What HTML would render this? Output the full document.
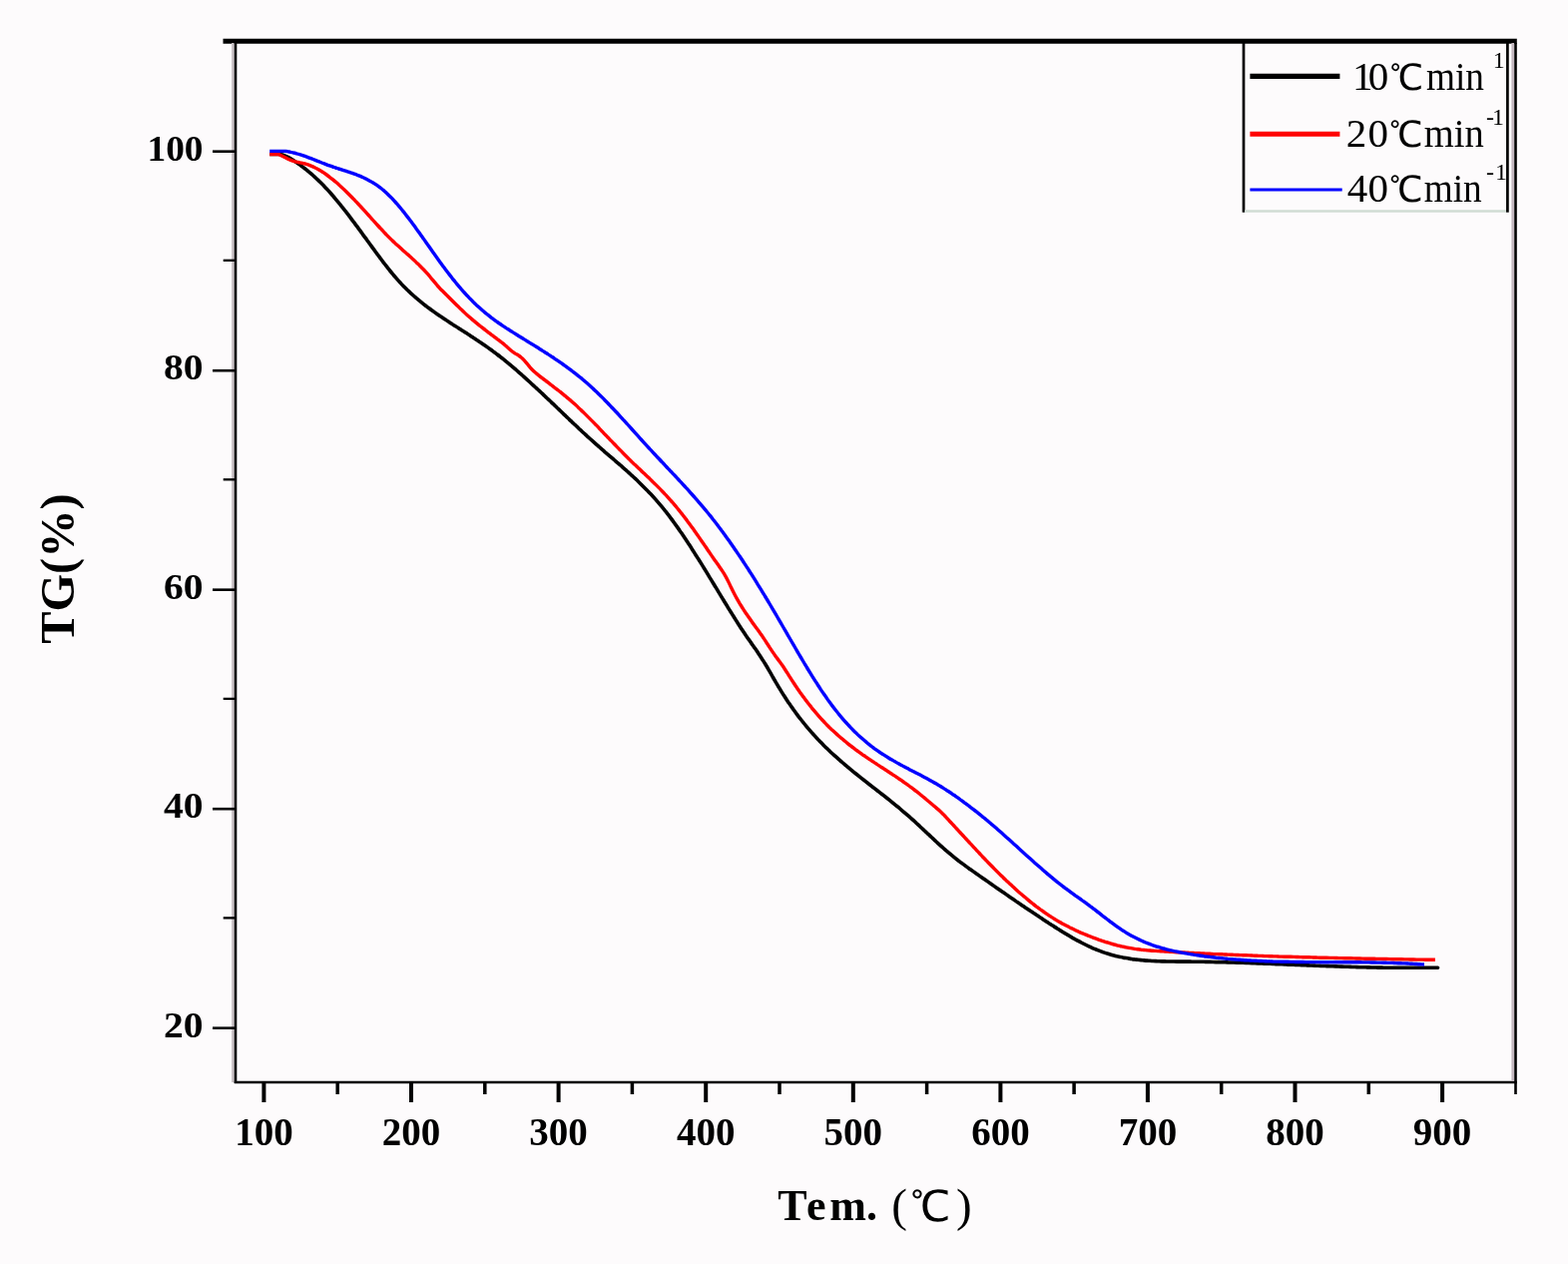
<!DOCTYPE html>
<html><head><meta charset="utf-8"><title>TG curves</title>
<style>
html,body{margin:0;padding:0;background:#fdfbfc;}
body{width:1571px;height:1266px;overflow:hidden;}
svg{display:block;}
.tl{font-family:"Liberation Serif","Noto Serif CJK SC",serif;font-weight:bold;font-size:36px;fill:#000;}
.xl{font-family:"Liberation Serif","Noto Serif CJK SC",serif;font-weight:bold;font-size:39px;fill:#000;}
.at{font-family:"Liberation Serif","Noto Serif CJK SC",serif;font-weight:bold;fill:#000;}
.lg{font-family:"Liberation Serif","Noto Serif CJK SC",serif;font-size:41px;fill:#000;}
.sup{font-family:"Liberation Serif",serif;font-size:24px;fill:#000;}
.deg{font-family:"WenQuanYi Zen Hei","Noto Serif CJK SC",sans-serif;font-size:36px;fill:#000;}
</style></head>
<body>
<svg width="1571" height="1266" viewBox="0 0 1571 1266">
<rect width="1571" height="1266" fill="#fdfbfc"/>
<!-- frame -->
<line x1="223.5" y1="41.2" x2="1519.8" y2="41.2" stroke="#000" stroke-width="5"/>
<line x1="233.4" y1="43" x2="233.4" y2="1084" stroke="#c8c0c4" stroke-width="2.6"/>
<line x1="236" y1="43" x2="236" y2="1085" stroke="#000" stroke-width="2.6"/>
<line x1="234.8" y1="1084" x2="1519.8" y2="1084" stroke="#000" stroke-width="2.4"/>
<line x1="1515.7" y1="43" x2="1515.7" y2="1083" stroke="#c4b8c0" stroke-width="2.6"/>
<line x1="1518.5" y1="43" x2="1518.5" y2="1096" stroke="#000" stroke-width="2.6"/>
<line x1="213" y1="151.7" x2="236" y2="151.7" stroke="#000" stroke-width="2.6"/>
<line x1="213" y1="371.2" x2="236" y2="371.2" stroke="#000" stroke-width="2.6"/>
<line x1="213" y1="590.7" x2="236" y2="590.7" stroke="#000" stroke-width="2.6"/>
<line x1="213" y1="810.2" x2="236" y2="810.2" stroke="#000" stroke-width="2.6"/>
<line x1="213" y1="1029.7" x2="236" y2="1029.7" stroke="#000" stroke-width="2.6"/>
<line x1="223.7" y1="260.8" x2="236" y2="260.8" stroke="#000" stroke-width="2.3"/>
<line x1="223.7" y1="480.3" x2="236" y2="480.3" stroke="#000" stroke-width="2.3"/>
<line x1="223.7" y1="699.9" x2="236" y2="699.9" stroke="#000" stroke-width="2.3"/>
<line x1="223.7" y1="919.4" x2="236" y2="919.4" stroke="#000" stroke-width="2.3"/>
<line x1="264.4" y1="1083" x2="264.4" y2="1104" stroke="#000" stroke-width="4"/>
<line x1="412.0" y1="1083" x2="412.0" y2="1104" stroke="#000" stroke-width="4"/>
<line x1="559.6" y1="1083" x2="559.6" y2="1104" stroke="#000" stroke-width="4"/>
<line x1="707.2" y1="1083" x2="707.2" y2="1104" stroke="#000" stroke-width="4"/>
<line x1="854.8" y1="1083" x2="854.8" y2="1104" stroke="#000" stroke-width="4"/>
<line x1="1002.4" y1="1083" x2="1002.4" y2="1104" stroke="#000" stroke-width="4"/>
<line x1="1149.9" y1="1083" x2="1149.9" y2="1104" stroke="#000" stroke-width="4"/>
<line x1="1297.5" y1="1083" x2="1297.5" y2="1104" stroke="#000" stroke-width="4"/>
<line x1="1445.1" y1="1083" x2="1445.1" y2="1104" stroke="#000" stroke-width="4"/>
<line x1="338.2" y1="1083" x2="338.2" y2="1096" stroke="#000" stroke-width="3.5"/>
<line x1="485.8" y1="1083" x2="485.8" y2="1096" stroke="#000" stroke-width="3.5"/>
<line x1="633.4" y1="1083" x2="633.4" y2="1096" stroke="#000" stroke-width="3.5"/>
<line x1="781.0" y1="1083" x2="781.0" y2="1096" stroke="#000" stroke-width="3.5"/>
<line x1="928.6" y1="1083" x2="928.6" y2="1096" stroke="#000" stroke-width="3.5"/>
<line x1="1076.1" y1="1083" x2="1076.1" y2="1096" stroke="#000" stroke-width="3.5"/>
<line x1="1223.7" y1="1083" x2="1223.7" y2="1096" stroke="#000" stroke-width="3.5"/>
<line x1="1371.3" y1="1083" x2="1371.3" y2="1096" stroke="#000" stroke-width="3.5"/>

<text x="203.5" y="160.7" text-anchor="end" class="tl" textLength="56" lengthAdjust="spacingAndGlyphs">100</text>
<text x="203.5" y="380.2" text-anchor="end" class="tl" textLength="39.5" lengthAdjust="spacingAndGlyphs">80</text>
<text x="203.5" y="599.7" text-anchor="end" class="tl" textLength="39.5" lengthAdjust="spacingAndGlyphs">60</text>
<text x="203.5" y="819.2" text-anchor="end" class="tl" textLength="39.5" lengthAdjust="spacingAndGlyphs">40</text>
<text x="203.5" y="1038.7" text-anchor="end" class="tl" textLength="39.5" lengthAdjust="spacingAndGlyphs">20</text>

<text x="264.4" y="1147.3" text-anchor="middle" class="xl">100</text>
<text x="412.0" y="1147.3" text-anchor="middle" class="xl">200</text>
<text x="559.6" y="1147.3" text-anchor="middle" class="xl">300</text>
<text x="707.2" y="1147.3" text-anchor="middle" class="xl">400</text>
<text x="854.8" y="1147.3" text-anchor="middle" class="xl">500</text>
<text x="1002.4" y="1147.3" text-anchor="middle" class="xl">600</text>
<text x="1149.9" y="1147.3" text-anchor="middle" class="xl">700</text>
<text x="1297.5" y="1147.3" text-anchor="middle" class="xl">800</text>
<text x="1445.1" y="1147.3" text-anchor="middle" class="xl">900</text>

<text class="at" font-size="49" transform="translate(74.3,644.8) rotate(-90)" textLength="150.5" lengthAdjust="spacingAndGlyphs">TG(%)</text>
<text x="779.3 808.1 831.3 868.1" y="1221.5" class="at" font-size="44">Tem.</text>
<text x="893.2" y="1223" class="lg" style="font-size:47px">(</text><text x="912.3" y="1223" class="deg" style="font-size:43px">℃</text><text x="958.1" y="1223" class="lg" style="font-size:47px">)</text>
<!-- legend -->
<line x1="1246" y1="43" x2="1246" y2="212.7" stroke="#000" stroke-width="2.7"/>
<line x1="1510.4" y1="43" x2="1510.4" y2="212.7" stroke="#000" stroke-width="2.7"/>
<line x1="1247" y1="211.5" x2="1509" y2="211.5" stroke="#d0dcd4" stroke-width="2.4"/>
<line x1="1252.4" y1="76.4" x2="1342.4" y2="76.4" stroke="#000" stroke-width="5.4"/>
<line x1="1252.4" y1="134.2" x2="1342.4" y2="134.2" stroke="#f00" stroke-width="5"/>
<line x1="1252.4" y1="190.1" x2="1344.7" y2="190.1" stroke="#00f" stroke-width="3"/>
<text y="90.1" class="lg" x="1354.9 1370.7">10</text><text y="90.1" class="deg" x="1392.4">℃</text><text y="90.1" class="lg" x="1429" textLength="58" lengthAdjust="spacingAndGlyphs">min</text>
<text x="1495.7" y="68.3" class="sup">1</text>
<text y="147.2" class="lg" x="1348.8 1370.5">20</text><text y="147.2" class="deg" x="1392.1">℃</text><text y="147.2" class="lg" x="1426.7" textLength="60" lengthAdjust="spacingAndGlyphs">min</text>
<text x="1488.9 1495" y="125.4" class="sup">-1</text>
<text y="201.7" class="lg" x="1349.8 1370.5">40</text><text y="201.7" class="deg" x="1392.1">℃</text><text y="201.7" class="lg" x="1426.7" textLength="58" lengthAdjust="spacingAndGlyphs">min</text>
<text x="1489 1498" y="180" class="sup">-1</text>
<!-- curves -->
<path d="M270.2,154.5 C270.7,154.5 272.2,154.5 273.2,154.5 C274.2,154.5 275.2,154.5 276.2,154.5 C277.2,154.5 278.2,154.4 279.2,154.5 C280.2,154.5 281.2,154.4 282.2,154.7 C283.2,154.9 284.2,155.3 285.2,155.8 C286.2,156.2 287.2,156.6 288.2,157.2 C289.2,157.7 290.2,158.2 291.2,158.8 C292.2,159.4 293.2,160.1 294.2,160.7 C295.2,161.4 296.2,162.1 297.2,162.7 C298.2,163.4 299.2,164.2 300.2,164.9 C301.2,165.6 302.2,166.4 303.2,167.1 C304.2,167.9 305.2,168.6 306.2,169.4 C307.2,170.2 308.2,171.0 309.2,171.9 C310.2,172.7 311.2,173.5 312.2,174.4 C313.2,175.3 314.2,176.2 315.2,177.1 C316.2,178.0 317.2,178.9 318.2,179.9 C319.2,180.8 320.2,181.8 321.2,182.8 C322.2,183.8 323.2,184.8 324.2,185.8 C325.2,186.9 326.2,187.9 327.2,189.0 C328.2,190.1 329.2,191.2 330.2,192.3 C331.2,193.4 332.2,194.6 333.2,195.7 C334.2,196.9 335.2,198.1 336.2,199.3 C337.2,200.5 338.2,201.7 339.2,202.9 C340.2,204.1 341.2,205.3 342.2,206.6 C343.2,207.8 344.2,209.1 345.2,210.4 C346.2,211.6 347.2,212.9 348.2,214.2 C349.2,215.5 350.2,216.8 351.2,218.1 C352.2,219.5 353.2,220.8 354.2,222.1 C355.2,223.4 356.2,224.8 357.2,226.1 C358.2,227.5 359.2,228.8 360.2,230.2 C361.2,231.5 362.2,232.9 363.2,234.3 C364.2,235.6 365.2,237.0 366.2,238.4 C367.2,239.8 368.2,241.1 369.2,242.5 C370.2,243.9 371.2,245.3 372.2,246.6 C373.2,248.0 374.2,249.4 375.2,250.7 C376.2,252.1 377.2,253.5 378.2,254.8 C379.2,256.2 380.2,257.5 381.2,258.8 C382.2,260.2 383.2,261.5 384.2,262.8 C385.2,264.1 386.2,265.4 387.2,266.7 C388.2,268.0 389.2,269.2 390.2,270.5 C391.2,271.7 392.2,272.9 393.2,274.2 C394.2,275.4 395.2,276.5 396.2,277.7 C397.2,278.9 398.2,280.0 399.2,281.1 C400.2,282.2 401.2,283.3 402.2,284.4 C403.2,285.4 404.2,286.5 405.2,287.5 C406.2,288.5 407.2,289.5 408.2,290.5 C409.2,291.4 410.2,292.4 411.2,293.3 C412.2,294.2 413.2,295.1 414.2,296.0 C415.2,296.9 416.2,297.8 417.2,298.7 C418.2,299.5 419.2,300.4 420.2,301.2 C421.2,302.0 422.2,302.8 423.2,303.6 C424.2,304.4 425.2,305.2 426.2,306.0 C427.2,306.8 428.2,307.5 429.2,308.3 C430.2,309.0 431.2,309.7 432.2,310.5 C433.2,311.2 434.2,311.9 435.2,312.6 C436.2,313.3 437.2,314.0 438.2,314.7 C439.2,315.4 440.2,316.1 441.2,316.8 C442.2,317.4 443.2,318.1 444.2,318.8 C445.2,319.5 446.2,320.1 447.2,320.8 C448.2,321.4 449.2,322.1 450.2,322.7 C451.2,323.4 452.2,324.0 453.2,324.7 C454.2,325.3 455.2,326.0 456.2,326.6 C457.2,327.3 458.2,327.9 459.2,328.5 C460.2,329.2 461.2,329.8 462.2,330.5 C463.2,331.1 464.2,331.7 465.2,332.4 C466.2,333.0 467.2,333.7 468.2,334.3 C469.2,334.9 470.2,335.6 471.2,336.2 C472.2,336.9 473.2,337.5 474.2,338.2 C475.2,338.8 476.2,339.5 477.2,340.2 C478.2,340.8 479.2,341.5 480.2,342.2 C481.2,342.8 482.2,343.5 483.2,344.2 C484.2,344.9 485.2,345.6 486.2,346.3 C487.2,347.0 488.2,347.7 489.2,348.4 C490.2,349.1 491.2,349.8 492.2,350.5 C493.2,351.3 494.2,352.0 495.2,352.8 C496.2,353.5 497.2,354.3 498.2,355.0 C499.2,355.8 500.2,356.6 501.2,357.3 C502.2,358.1 503.2,358.9 504.2,359.7 C505.2,360.5 506.2,361.3 507.2,362.2 C508.2,363.0 509.2,363.8 510.2,364.6 C511.2,365.5 512.2,366.3 513.2,367.1 C514.2,368.0 515.2,368.8 516.2,369.7 C517.2,370.6 518.2,371.4 519.2,372.3 C520.2,373.2 521.2,374.1 522.2,374.9 C523.2,375.8 524.2,376.7 525.2,377.6 C526.2,378.5 527.2,379.4 528.2,380.3 C529.2,381.2 530.2,382.1 531.2,383.0 C532.2,384.0 533.2,384.9 534.2,385.8 C535.2,386.7 536.2,387.7 537.2,388.6 C538.2,389.5 539.2,390.5 540.2,391.4 C541.2,392.3 542.2,393.3 543.2,394.2 C544.2,395.1 545.2,396.1 546.2,397.0 C547.2,398.0 548.2,398.9 549.2,399.9 C550.2,400.8 551.2,401.8 552.2,402.7 C553.2,403.7 554.2,404.6 555.2,405.6 C556.2,406.6 557.2,407.5 558.2,408.5 C559.2,409.4 560.2,410.4 561.2,411.3 C562.2,412.3 563.2,413.3 564.2,414.2 C565.2,415.2 566.2,416.1 567.2,417.1 C568.2,418.0 569.2,419.0 570.2,419.9 C571.2,420.9 572.2,421.8 573.2,422.8 C574.2,423.7 575.2,424.7 576.2,425.6 C577.2,426.6 578.2,427.5 579.2,428.4 C580.2,429.4 581.2,430.3 582.2,431.2 C583.2,432.2 584.2,433.1 585.2,434.0 C586.2,434.9 587.2,435.9 588.2,436.8 C589.2,437.7 590.2,438.6 591.2,439.5 C592.2,440.4 593.2,441.3 594.2,442.2 C595.2,443.1 596.2,444.0 597.2,444.9 C598.2,445.8 599.2,446.7 600.2,447.5 C601.2,448.4 602.2,449.3 603.2,450.2 C604.2,451.0 605.2,451.9 606.2,452.8 C607.2,453.6 608.2,454.5 609.2,455.3 C610.2,456.2 611.2,457.1 612.2,457.9 C613.2,458.8 614.2,459.6 615.2,460.5 C616.2,461.4 617.2,462.2 618.2,463.1 C619.2,463.9 620.2,464.8 621.2,465.7 C622.2,466.5 623.2,467.4 624.2,468.3 C625.2,469.2 626.2,470.1 627.2,470.9 C628.2,471.8 629.2,472.7 630.2,473.6 C631.2,474.5 632.2,475.4 633.2,476.4 C634.2,477.3 635.2,478.2 636.2,479.1 C637.2,480.1 638.2,481.0 639.2,482.0 C640.2,482.9 641.2,483.9 642.2,484.9 C643.2,485.9 644.2,486.9 645.2,487.9 C646.2,488.9 647.2,489.9 648.2,490.9 C649.2,492.0 650.2,493.0 651.2,494.1 C652.2,495.1 653.2,496.2 654.2,497.3 C655.2,498.4 656.2,499.5 657.2,500.6 C658.2,501.8 659.2,502.9 660.2,504.1 C661.2,505.3 662.2,506.5 663.2,507.7 C664.2,508.9 665.2,510.1 666.2,511.4 C667.2,512.6 668.2,513.9 669.2,515.2 C670.2,516.5 671.2,517.8 672.2,519.1 C673.2,520.5 674.2,521.8 675.2,523.2 C676.2,524.6 677.2,526.0 678.2,527.4 C679.2,528.8 680.2,530.2 681.2,531.7 C682.2,533.1 683.2,534.6 684.2,536.0 C685.2,537.5 686.2,539.0 687.2,540.5 C688.2,542.0 689.2,543.5 690.2,545.1 C691.2,546.6 692.2,548.1 693.2,549.7 C694.2,551.2 695.2,552.8 696.2,554.4 C697.2,555.9 698.2,557.5 699.2,559.1 C700.2,560.7 701.2,562.3 702.2,563.9 C703.2,565.5 704.2,567.1 705.2,568.8 C706.2,570.4 707.2,572.0 708.2,573.6 C709.2,575.3 710.2,576.9 711.2,578.6 C712.2,580.2 713.2,581.8 714.2,583.5 C715.2,585.1 716.2,586.8 717.2,588.4 C718.2,590.1 719.2,591.7 720.2,593.4 C721.2,595.0 722.2,596.7 723.2,598.3 C724.2,600.0 725.2,601.6 726.2,603.3 C727.2,604.9 728.2,606.5 729.2,608.2 C730.2,609.8 731.2,611.4 732.2,613.0 C733.2,614.6 734.2,616.2 735.2,617.8 C736.2,619.4 737.2,621.0 738.2,622.6 C739.2,624.1 740.2,625.7 741.2,627.2 C742.2,628.8 743.2,630.3 744.2,631.8 C745.2,633.3 746.2,634.8 747.2,636.3 C748.2,637.7 749.2,639.2 750.2,640.6 C751.2,642.1 752.2,643.5 753.2,644.9 C754.2,646.3 755.2,647.7 756.2,649.1 C757.2,650.6 758.2,652.0 759.2,653.4 C760.2,654.9 761.2,656.4 762.2,657.9 C763.2,659.4 764.2,661.0 765.2,662.6 C766.2,664.2 767.2,665.9 768.2,667.5 C769.2,669.2 770.2,671.0 771.2,672.7 C772.2,674.4 773.2,676.2 774.2,678.0 C775.2,679.7 776.2,681.4 777.2,683.2 C778.2,684.9 779.2,686.6 780.2,688.2 C781.2,689.9 782.2,691.5 783.2,693.1 C784.2,694.7 785.2,696.3 786.2,697.8 C787.2,699.4 788.2,700.9 789.2,702.4 C790.2,703.9 791.2,705.3 792.2,706.8 C793.2,708.2 794.2,709.6 795.2,711.0 C796.2,712.4 797.2,713.8 798.2,715.1 C799.2,716.5 800.2,717.8 801.2,719.1 C802.2,720.4 803.2,721.6 804.2,722.9 C805.2,724.1 806.2,725.4 807.2,726.6 C808.2,727.8 809.2,729.0 810.2,730.1 C811.2,731.3 812.2,732.5 813.2,733.6 C814.2,734.7 815.2,735.8 816.2,736.9 C817.2,738.0 818.2,739.1 819.2,740.2 C820.2,741.2 821.2,742.3 822.2,743.3 C823.2,744.4 824.2,745.4 825.2,746.4 C826.2,747.4 827.2,748.4 828.2,749.3 C829.2,750.3 830.2,751.3 831.2,752.2 C832.2,753.2 833.2,754.1 834.2,755.0 C835.2,755.9 836.2,756.8 837.2,757.7 C838.2,758.6 839.2,759.5 840.2,760.4 C841.2,761.3 842.2,762.2 843.2,763.0 C844.2,763.9 845.2,764.8 846.2,765.6 C847.2,766.5 848.2,767.3 849.2,768.1 C850.2,769.0 851.2,769.8 852.2,770.6 C853.2,771.4 854.2,772.2 855.2,773.1 C856.2,773.9 857.2,774.7 858.2,775.5 C859.2,776.3 860.2,777.1 861.2,777.9 C862.2,778.7 863.2,779.5 864.2,780.3 C865.2,781.0 866.2,781.8 867.2,782.6 C868.2,783.4 869.2,784.2 870.2,785.0 C871.2,785.7 872.2,786.5 873.2,787.3 C874.2,788.1 875.2,788.9 876.2,789.6 C877.2,790.4 878.2,791.2 879.2,792.0 C880.2,792.8 881.2,793.5 882.2,794.3 C883.2,795.1 884.2,795.9 885.2,796.7 C886.2,797.5 887.2,798.3 888.2,799.0 C889.2,799.8 890.2,800.6 891.2,801.4 C892.2,802.2 893.2,803.0 894.2,803.8 C895.2,804.7 896.2,805.5 897.2,806.3 C898.2,807.1 899.2,807.9 900.2,808.7 C901.2,809.6 902.2,810.4 903.2,811.3 C904.2,812.1 905.2,812.9 906.2,813.8 C907.2,814.7 908.2,815.5 909.2,816.4 C910.2,817.3 911.2,818.1 912.2,819.0 C913.2,819.9 914.2,820.8 915.2,821.7 C916.2,822.6 917.2,823.5 918.2,824.5 C919.2,825.4 920.2,826.3 921.2,827.2 C922.2,828.2 923.2,829.1 924.2,830.0 C925.2,831.0 926.2,831.9 927.2,832.9 C928.2,833.8 929.2,834.7 930.2,835.7 C931.2,836.6 932.2,837.6 933.2,838.5 C934.2,839.4 935.2,840.4 936.2,841.3 C937.2,842.2 938.2,843.2 939.2,844.1 C940.2,845.0 941.2,845.9 942.2,846.8 C943.2,847.7 944.2,848.6 945.2,849.5 C946.2,850.4 947.2,851.3 948.2,852.2 C949.2,853.0 950.2,853.9 951.2,854.7 C952.2,855.6 953.2,856.4 954.2,857.2 C955.2,858.0 956.2,858.8 957.2,859.6 C958.2,860.4 959.2,861.2 960.2,862.0 C961.2,862.7 962.2,863.5 963.2,864.2 C964.2,865.0 965.2,865.7 966.2,866.4 C967.2,867.2 968.2,867.9 969.2,868.6 C970.2,869.3 971.2,870.1 972.2,870.8 C973.2,871.5 974.2,872.2 975.2,872.9 C976.2,873.6 977.2,874.3 978.2,875.0 C979.2,875.7 980.2,876.4 981.2,877.1 C982.2,877.8 983.2,878.5 984.2,879.2 C985.2,879.9 986.2,880.6 987.2,881.3 C988.2,882.0 989.2,882.7 990.2,883.4 C991.2,884.1 992.2,884.8 993.2,885.5 C994.2,886.2 995.2,886.9 996.2,887.6 C997.2,888.3 998.2,889.0 999.2,889.7 C1000.2,890.4 1001.2,891.1 1002.2,891.8 C1003.2,892.5 1004.2,893.2 1005.2,893.8 C1006.2,894.5 1007.2,895.2 1008.2,895.9 C1009.2,896.6 1010.2,897.3 1011.2,898.0 C1012.2,898.7 1013.2,899.4 1014.2,900.0 C1015.2,900.7 1016.2,901.4 1017.2,902.1 C1018.2,902.8 1019.2,903.5 1020.2,904.1 C1021.2,904.8 1022.2,905.5 1023.2,906.2 C1024.2,906.9 1025.2,907.5 1026.2,908.2 C1027.2,908.9 1028.2,909.6 1029.2,910.2 C1030.2,910.9 1031.2,911.6 1032.2,912.3 C1033.2,912.9 1034.2,913.6 1035.2,914.3 C1036.2,914.9 1037.2,915.6 1038.2,916.3 C1039.2,916.9 1040.2,917.6 1041.2,918.3 C1042.2,918.9 1043.2,919.6 1044.2,920.2 C1045.2,920.9 1046.2,921.6 1047.2,922.2 C1048.2,922.9 1049.2,923.5 1050.2,924.2 C1051.2,924.8 1052.2,925.5 1053.2,926.1 C1054.2,926.8 1055.2,927.4 1056.2,928.1 C1057.2,928.7 1058.2,929.3 1059.2,930.0 C1060.2,930.6 1061.2,931.2 1062.2,931.9 C1063.2,932.5 1064.2,933.1 1065.2,933.7 C1066.2,934.3 1067.2,934.9 1068.2,935.5 C1069.2,936.1 1070.2,936.7 1071.2,937.3 C1072.2,937.9 1073.2,938.5 1074.2,939.1 C1075.2,939.6 1076.2,940.2 1077.2,940.8 C1078.2,941.3 1079.2,941.9 1080.2,942.4 C1081.2,942.9 1082.2,943.5 1083.2,944.0 C1084.2,944.5 1085.2,945.0 1086.2,945.5 C1087.2,946.0 1088.2,946.5 1089.2,947.0 C1090.2,947.5 1091.2,948.0 1092.2,948.4 C1093.2,948.9 1094.2,949.3 1095.2,949.8 C1096.2,950.2 1097.2,950.6 1098.2,951.0 C1099.2,951.4 1100.2,951.8 1101.2,952.2 C1102.2,952.6 1103.2,953.0 1104.2,953.3 C1105.2,953.7 1106.2,954.0 1107.2,954.4 C1108.2,954.7 1109.2,955.0 1110.2,955.3 C1111.2,955.6 1112.2,955.9 1113.2,956.2 C1114.2,956.5 1115.2,956.8 1116.2,957.0 C1117.2,957.3 1118.2,957.5 1119.2,957.8 C1120.2,958.0 1121.2,958.2 1122.2,958.4 C1123.2,958.7 1124.2,958.9 1125.2,959.1 C1126.2,959.2 1127.2,959.4 1128.2,959.6 C1129.2,959.8 1130.2,960.0 1131.2,960.1 C1132.2,960.3 1133.2,960.4 1134.2,960.6 C1135.2,960.7 1136.2,960.8 1137.2,961.0 C1138.2,961.1 1139.2,961.2 1140.2,961.3 C1141.2,961.4 1142.2,961.5 1143.2,961.6 C1144.2,961.7 1145.2,961.8 1146.2,961.9 C1147.2,962.0 1148.2,962.1 1149.2,962.1 C1150.2,962.2 1151.2,962.3 1152.2,962.3 C1153.2,962.4 1154.2,962.5 1155.2,962.5 C1156.2,962.6 1157.2,962.6 1158.2,962.6 C1159.2,962.7 1160.2,962.7 1161.2,962.8 C1162.2,962.8 1163.2,962.8 1164.2,962.9 C1165.2,962.9 1166.2,962.9 1167.2,962.9 C1168.2,962.9 1169.2,963.0 1170.2,963.0 C1171.2,963.0 1172.2,963.0 1173.2,963.0 C1174.2,963.0 1175.2,963.0 1176.2,963.0 C1177.2,963.1 1178.2,963.1 1179.2,963.1 C1180.2,963.1 1181.2,963.1 1182.2,963.1 C1183.2,963.1 1184.2,963.1 1185.2,963.1 C1186.2,963.1 1187.2,963.1 1188.2,963.1 C1189.2,963.1 1190.2,963.1 1191.2,963.1 C1192.2,963.1 1193.2,963.2 1194.2,963.2 C1195.2,963.2 1196.2,963.2 1197.2,963.2 C1198.2,963.2 1199.2,963.2 1200.2,963.2 C1201.2,963.2 1202.2,963.3 1203.2,963.3 C1204.2,963.3 1205.2,963.3 1206.2,963.3 C1207.2,963.3 1208.2,963.4 1209.2,963.4 C1210.2,963.4 1211.2,963.4 1212.2,963.4 C1213.2,963.5 1214.2,963.5 1215.2,963.5 C1216.2,963.5 1217.2,963.5 1218.2,963.6 C1219.2,963.6 1220.2,963.6 1221.2,963.6 C1222.2,963.7 1223.2,963.7 1224.2,963.7 C1225.2,963.7 1226.2,963.8 1227.2,963.8 C1228.2,963.8 1229.2,963.8 1230.2,963.9 C1231.2,963.9 1232.2,963.9 1233.2,964.0 C1234.2,964.0 1235.2,964.0 1236.2,964.0 C1237.2,964.1 1238.2,964.1 1239.2,964.1 C1240.2,964.2 1241.2,964.2 1242.2,964.2 C1243.2,964.3 1244.2,964.3 1245.2,964.3 C1246.2,964.4 1247.2,964.4 1248.2,964.4 C1249.2,964.5 1250.2,964.5 1251.2,964.5 C1252.2,964.6 1253.2,964.6 1254.2,964.6 C1255.2,964.7 1256.2,964.7 1257.2,964.8 C1258.2,964.8 1259.2,964.8 1260.2,964.9 C1261.2,964.9 1262.2,964.9 1263.2,965.0 C1264.2,965.0 1265.2,965.1 1266.2,965.1 C1267.2,965.1 1268.2,965.2 1269.2,965.2 C1270.2,965.2 1271.2,965.3 1272.2,965.3 C1273.2,965.4 1274.2,965.4 1275.2,965.4 C1276.2,965.5 1277.2,965.5 1278.2,965.6 C1279.2,965.6 1280.2,965.6 1281.2,965.7 C1282.2,965.7 1283.2,965.8 1284.2,965.8 C1285.2,965.9 1286.2,965.9 1287.2,965.9 C1288.2,966.0 1289.2,966.0 1290.2,966.1 C1291.2,966.1 1292.2,966.1 1293.2,966.2 C1294.2,966.2 1295.2,966.3 1296.2,966.3 C1297.2,966.3 1298.2,966.4 1299.2,966.4 C1300.2,966.5 1301.2,966.5 1302.2,966.5 C1303.2,966.6 1304.2,966.6 1305.2,966.7 C1306.2,966.7 1307.2,966.7 1308.2,966.8 C1309.2,966.8 1310.2,966.9 1311.2,966.9 C1312.2,966.9 1313.2,967.0 1314.2,967.0 C1315.2,967.1 1316.2,967.1 1317.2,967.1 C1318.2,967.2 1319.2,967.2 1320.2,967.3 C1321.2,967.3 1322.2,967.3 1323.2,967.4 C1324.2,967.4 1325.2,967.5 1326.2,967.5 C1327.2,967.5 1328.2,967.6 1329.2,967.6 C1330.2,967.6 1331.2,967.7 1332.2,967.7 C1333.2,967.8 1334.2,967.8 1335.2,967.8 C1336.2,967.9 1337.2,967.9 1338.2,967.9 C1339.2,968.0 1340.2,968.0 1341.2,968.0 C1342.2,968.1 1343.2,968.1 1344.2,968.1 C1345.2,968.2 1346.2,968.2 1347.2,968.2 C1348.2,968.3 1349.2,968.3 1350.2,968.3 C1351.2,968.4 1352.2,968.4 1353.2,968.4 C1354.2,968.4 1355.2,968.5 1356.2,968.5 C1357.2,968.5 1358.2,968.6 1359.2,968.6 C1360.2,968.6 1361.2,968.6 1362.2,968.7 C1363.2,968.7 1364.2,968.7 1365.2,968.8 C1366.2,968.8 1367.2,968.8 1368.2,968.8 C1369.2,968.8 1370.2,968.9 1371.2,968.9 C1372.2,968.9 1373.2,968.9 1374.2,969.0 C1375.2,969.0 1376.2,969.0 1377.2,969.0 C1378.2,969.0 1379.2,969.1 1380.2,969.1 C1381.2,969.1 1382.2,969.1 1383.2,969.1 C1384.2,969.1 1385.2,969.2 1386.2,969.2 C1387.2,969.2 1388.2,969.2 1389.2,969.2 C1390.2,969.2 1391.2,969.2 1392.2,969.2 C1393.2,969.3 1394.2,969.3 1395.2,969.3 C1396.2,969.3 1397.2,969.3 1398.2,969.3 C1399.2,969.3 1400.2,969.3 1401.2,969.3 C1402.2,969.3 1403.2,969.3 1404.2,969.3 C1405.2,969.3 1406.2,969.3 1407.2,969.3 C1408.2,969.3 1409.2,969.3 1410.2,969.3 C1411.2,969.3 1412.2,969.3 1413.2,969.3 C1414.2,969.3 1415.2,969.3 1416.2,969.3 C1417.2,969.3 1418.2,969.3 1419.2,969.3 C1420.2,969.3 1421.2,969.3 1422.2,969.3 C1423.2,969.3 1424.2,969.3 1425.2,969.3 C1426.2,969.3 1427.2,969.3 1428.2,969.3 C1429.2,969.3 1430.2,969.3 1431.2,969.3 C1432.2,969.3 1433.2,969.3 1434.2,969.3 C1435.2,969.3 1436.2,969.3 1437.2,969.3 C1438.2,969.3 1439.7,969.3 1440.2,969.3 C1440.8,969.3 1440.5,969.3 1440.5,969.3" fill="none" stroke="#000" stroke-width="3.6" stroke-linejoin="round"/>
<path d="M270.2,154.5 C270.7,154.5 272.2,154.5 273.2,154.5 C274.2,154.5 275.2,154.4 276.2,154.5 C277.2,154.5 278.2,154.5 279.2,154.7 C280.2,155.0 281.2,155.5 282.2,156.0 C283.2,156.5 284.2,157.0 285.2,157.5 C286.2,158.0 287.2,158.6 288.2,159.1 C289.2,159.5 290.2,160.0 291.2,160.4 C292.2,160.8 293.2,161.1 294.2,161.4 C295.2,161.7 296.2,161.9 297.2,162.2 C298.2,162.4 299.2,162.6 300.2,162.8 C301.2,163.0 302.2,163.2 303.2,163.4 C304.2,163.6 305.2,163.9 306.2,164.1 C307.2,164.4 308.2,164.8 309.2,165.1 C310.2,165.5 311.2,165.9 312.2,166.3 C313.2,166.7 314.2,167.2 315.2,167.7 C316.2,168.2 317.2,168.7 318.2,169.3 C319.2,169.8 320.2,170.4 321.2,171.0 C322.2,171.6 323.2,172.3 324.2,172.9 C325.2,173.6 326.2,174.3 327.2,175.0 C328.2,175.7 329.2,176.5 330.2,177.3 C331.2,178.0 332.2,178.8 333.2,179.6 C334.2,180.4 335.2,181.3 336.2,182.1 C337.2,183.0 338.2,183.9 339.2,184.7 C340.2,185.6 341.2,186.5 342.2,187.5 C343.2,188.4 344.2,189.3 345.2,190.3 C346.2,191.2 347.2,192.2 348.2,193.2 C349.2,194.2 350.2,195.2 351.2,196.2 C352.2,197.2 353.2,198.2 354.2,199.3 C355.2,200.3 356.2,201.4 357.2,202.4 C358.2,203.5 359.2,204.5 360.2,205.6 C361.2,206.7 362.2,207.8 363.2,208.9 C364.2,210.0 365.2,211.1 366.2,212.2 C367.2,213.3 368.2,214.4 369.2,215.5 C370.2,216.6 371.2,217.7 372.2,218.8 C373.2,219.9 374.2,221.1 375.2,222.2 C376.2,223.3 377.2,224.4 378.2,225.5 C379.2,226.6 380.2,227.7 381.2,228.7 C382.2,229.8 383.2,230.9 384.2,231.9 C385.2,233.0 386.2,234.0 387.2,235.1 C388.2,236.1 389.2,237.1 390.2,238.1 C391.2,239.1 392.2,240.1 393.2,241.0 C394.2,242.0 395.2,242.9 396.2,243.9 C397.2,244.8 398.2,245.7 399.2,246.6 C400.2,247.5 401.2,248.4 402.2,249.3 C403.2,250.2 404.2,251.1 405.2,252.0 C406.2,252.9 407.2,253.8 408.2,254.7 C409.2,255.5 410.2,256.4 411.2,257.3 C412.2,258.2 413.2,259.1 414.2,260.1 C415.2,261.0 416.2,261.9 417.2,262.9 C418.2,263.8 419.2,264.8 420.2,265.7 C421.2,266.7 422.2,267.7 423.2,268.8 C424.2,269.8 425.2,270.8 426.2,271.9 C427.2,273.0 428.2,274.1 429.2,275.2 C430.2,276.4 431.2,277.6 432.2,278.8 C433.2,279.9 434.2,281.2 435.2,282.4 C436.2,283.6 437.2,284.8 438.2,286.0 C439.2,287.1 440.2,288.2 441.2,289.3 C442.2,290.4 443.2,291.3 444.2,292.3 C445.2,293.3 446.2,294.3 447.2,295.3 C448.2,296.2 449.2,297.2 450.2,298.2 C451.2,299.2 452.2,300.2 453.2,301.2 C454.2,302.2 455.2,303.2 456.2,304.2 C457.2,305.2 458.2,306.2 459.2,307.1 C460.2,308.1 461.2,309.1 462.2,310.1 C463.2,311.0 464.2,312.0 465.2,312.9 C466.2,313.9 467.2,314.8 468.2,315.7 C469.2,316.6 470.2,317.4 471.2,318.3 C472.2,319.2 473.2,320.0 474.2,320.9 C475.2,321.7 476.2,322.6 477.2,323.4 C478.2,324.2 479.2,325.0 480.2,325.8 C481.2,326.6 482.2,327.4 483.2,328.2 C484.2,329.0 485.2,329.8 486.2,330.5 C487.2,331.3 488.2,332.1 489.2,332.8 C490.2,333.6 491.2,334.3 492.2,335.1 C493.2,335.8 494.2,336.6 495.2,337.3 C496.2,338.1 497.2,338.8 498.2,339.6 C499.2,340.3 500.2,341.1 501.2,341.8 C502.2,342.6 503.2,343.4 504.2,344.2 C505.2,345.0 506.2,345.9 507.2,346.7 C508.2,347.6 509.2,348.5 510.2,349.4 C511.2,350.3 512.2,351.2 513.2,352.0 C514.2,352.8 515.2,353.4 516.2,354.1 C517.2,354.7 518.2,355.0 519.2,355.7 C520.2,356.3 521.2,357.1 522.2,358.0 C523.2,358.8 524.2,359.8 525.2,360.9 C526.2,362.0 527.2,363.2 528.2,364.4 C529.2,365.6 530.2,367.0 531.2,368.1 C532.2,369.2 533.2,370.3 534.2,371.2 C535.2,372.2 536.2,373.0 537.2,373.9 C538.2,374.7 539.2,375.5 540.2,376.3 C541.2,377.1 542.2,377.9 543.2,378.6 C544.2,379.4 545.2,380.2 546.2,380.9 C547.2,381.7 548.2,382.5 549.2,383.2 C550.2,384.0 551.2,384.7 552.2,385.5 C553.2,386.3 554.2,387.0 555.2,387.8 C556.2,388.5 557.2,389.3 558.2,390.1 C559.2,390.9 560.2,391.6 561.2,392.4 C562.2,393.2 563.2,394.0 564.2,394.8 C565.2,395.6 566.2,396.4 567.2,397.3 C568.2,398.1 569.2,398.9 570.2,399.8 C571.2,400.6 572.2,401.5 573.2,402.4 C574.2,403.3 575.2,404.2 576.2,405.1 C577.2,406.0 578.2,406.9 579.2,407.9 C580.2,408.8 581.2,409.7 582.2,410.7 C583.2,411.7 584.2,412.6 585.2,413.6 C586.2,414.6 587.2,415.6 588.2,416.6 C589.2,417.6 590.2,418.6 591.2,419.6 C592.2,420.6 593.2,421.6 594.2,422.6 C595.2,423.7 596.2,424.7 597.2,425.7 C598.2,426.8 599.2,427.8 600.2,428.8 C601.2,429.9 602.2,430.9 603.2,432.0 C604.2,433.0 605.2,434.1 606.2,435.1 C607.2,436.2 608.2,437.2 609.2,438.3 C610.2,439.3 611.2,440.4 612.2,441.4 C613.2,442.4 614.2,443.5 615.2,444.5 C616.2,445.6 617.2,446.6 618.2,447.6 C619.2,448.7 620.2,449.7 621.2,450.7 C622.2,451.8 623.2,452.8 624.2,453.8 C625.2,454.8 626.2,455.8 627.2,456.8 C628.2,457.8 629.2,458.8 630.2,459.8 C631.2,460.7 632.2,461.7 633.2,462.7 C634.2,463.6 635.2,464.6 636.2,465.6 C637.2,466.5 638.2,467.5 639.2,468.4 C640.2,469.3 641.2,470.3 642.2,471.2 C643.2,472.2 644.2,473.1 645.2,474.1 C646.2,475.0 647.2,476.0 648.2,476.9 C649.2,477.9 650.2,478.8 651.2,479.8 C652.2,480.7 653.2,481.7 654.2,482.7 C655.2,483.6 656.2,484.6 657.2,485.6 C658.2,486.6 659.2,487.6 660.2,488.6 C661.2,489.6 662.2,490.7 663.2,491.7 C664.2,492.7 665.2,493.8 666.2,494.9 C667.2,495.9 668.2,497.0 669.2,498.1 C670.2,499.2 671.2,500.3 672.2,501.5 C673.2,502.6 674.2,503.8 675.2,504.9 C676.2,506.1 677.2,507.3 678.2,508.5 C679.2,509.7 680.2,511.0 681.2,512.2 C682.2,513.5 683.2,514.7 684.2,516.0 C685.2,517.3 686.2,518.6 687.2,519.9 C688.2,521.2 689.2,522.6 690.2,523.9 C691.2,525.3 692.2,526.6 693.2,528.0 C694.2,529.4 695.2,530.8 696.2,532.2 C697.2,533.6 698.2,535.0 699.2,536.4 C700.2,537.9 701.2,539.3 702.2,540.8 C703.2,542.2 704.2,543.7 705.2,545.1 C706.2,546.6 707.2,548.0 708.2,549.5 C709.2,551.0 710.2,552.4 711.2,553.9 C712.2,555.4 713.2,556.8 714.2,558.3 C715.2,559.7 716.2,561.2 717.2,562.6 C718.2,564.0 719.2,565.4 720.2,566.8 C721.2,568.3 722.2,569.6 723.2,571.1 C724.2,572.6 725.2,574.1 726.2,575.9 C727.2,577.6 728.2,579.5 729.2,581.5 C730.2,583.4 731.2,585.6 732.2,587.7 C733.2,589.7 734.2,591.8 735.2,593.7 C736.2,595.7 737.2,597.6 738.2,599.4 C739.2,601.2 740.2,602.9 741.2,604.6 C742.2,606.2 743.2,607.8 744.2,609.4 C745.2,611.0 746.2,612.5 747.2,614.0 C748.2,615.5 749.2,616.9 750.2,618.3 C751.2,619.8 752.2,621.2 753.2,622.6 C754.2,623.9 755.2,625.3 756.2,626.7 C757.2,628.1 758.2,629.5 759.2,630.8 C760.2,632.2 761.2,633.6 762.2,635.1 C763.2,636.5 764.2,637.9 765.2,639.4 C766.2,640.9 767.2,642.4 768.2,644.0 C769.2,645.5 770.2,647.0 771.2,648.6 C772.2,650.1 773.2,651.6 774.2,653.1 C775.2,654.6 776.2,656.0 777.2,657.4 C778.2,658.8 779.2,660.0 780.2,661.4 C781.2,662.8 782.2,664.1 783.2,665.6 C784.2,667.0 785.2,668.5 786.2,670.0 C787.2,671.5 788.2,673.1 789.2,674.7 C790.2,676.3 791.2,677.8 792.2,679.4 C793.2,681.0 794.2,682.5 795.2,684.0 C796.2,685.6 797.2,687.1 798.2,688.5 C799.2,690.0 800.2,691.4 801.2,692.9 C802.2,694.3 803.2,695.7 804.2,697.1 C805.2,698.4 806.2,699.8 807.2,701.1 C808.2,702.4 809.2,703.7 810.2,705.0 C811.2,706.3 812.2,707.5 813.2,708.8 C814.2,710.0 815.2,711.2 816.2,712.4 C817.2,713.6 818.2,714.8 819.2,715.9 C820.2,717.1 821.2,718.2 822.2,719.3 C823.2,720.4 824.2,721.5 825.2,722.5 C826.2,723.6 827.2,724.6 828.2,725.7 C829.2,726.7 830.2,727.7 831.2,728.7 C832.2,729.6 833.2,730.6 834.2,731.6 C835.2,732.5 836.2,733.4 837.2,734.3 C838.2,735.3 839.2,736.2 840.2,737.0 C841.2,737.9 842.2,738.8 843.2,739.6 C844.2,740.5 845.2,741.3 846.2,742.1 C847.2,743.0 848.2,743.8 849.2,744.6 C850.2,745.4 851.2,746.2 852.2,746.9 C853.2,747.7 854.2,748.5 855.2,749.2 C856.2,750.0 857.2,750.7 858.2,751.5 C859.2,752.2 860.2,752.9 861.2,753.6 C862.2,754.3 863.2,755.1 864.2,755.8 C865.2,756.5 866.2,757.1 867.2,757.8 C868.2,758.5 869.2,759.2 870.2,759.9 C871.2,760.6 872.2,761.2 873.2,761.9 C874.2,762.6 875.2,763.2 876.2,763.9 C877.2,764.5 878.2,765.2 879.2,765.9 C880.2,766.5 881.2,767.2 882.2,767.8 C883.2,768.5 884.2,769.1 885.2,769.8 C886.2,770.4 887.2,771.1 888.2,771.7 C889.2,772.4 890.2,773.0 891.2,773.7 C892.2,774.3 893.2,775.0 894.2,775.7 C895.2,776.3 896.2,777.0 897.2,777.6 C898.2,778.3 899.2,779.0 900.2,779.7 C901.2,780.3 902.2,781.0 903.2,781.7 C904.2,782.4 905.2,783.1 906.2,783.8 C907.2,784.5 908.2,785.2 909.2,785.9 C910.2,786.6 911.2,787.4 912.2,788.1 C913.2,788.8 914.2,789.6 915.2,790.3 C916.2,791.1 917.2,791.9 918.2,792.6 C919.2,793.4 920.2,794.2 921.2,795.0 C922.2,795.8 923.2,796.6 924.2,797.5 C925.2,798.3 926.2,799.1 927.2,799.9 C928.2,800.8 929.2,801.6 930.2,802.5 C931.2,803.3 932.2,804.2 933.2,805.0 C934.2,805.9 935.2,806.8 936.2,807.6 C937.2,808.5 938.2,809.3 939.2,810.2 C940.2,811.0 941.2,811.9 942.2,812.8 C943.2,813.7 944.2,814.7 945.2,815.7 C946.2,816.8 947.2,817.9 948.2,818.9 C949.2,820.0 950.2,821.1 951.2,822.2 C952.2,823.2 953.2,824.3 954.2,825.4 C955.2,826.5 956.2,827.6 957.2,828.6 C958.2,829.7 959.2,830.8 960.2,831.9 C961.2,833.0 962.2,834.0 963.2,835.1 C964.2,836.2 965.2,837.3 966.2,838.4 C967.2,839.5 968.2,840.5 969.2,841.6 C970.2,842.7 971.2,843.8 972.2,844.9 C973.2,845.9 974.2,847.0 975.2,848.1 C976.2,849.2 977.2,850.2 978.2,851.3 C979.2,852.4 980.2,853.4 981.2,854.5 C982.2,855.6 983.2,856.6 984.2,857.7 C985.2,858.7 986.2,859.8 987.2,860.8 C988.2,861.9 989.2,862.9 990.2,864.0 C991.2,865.0 992.2,866.0 993.2,867.0 C994.2,868.1 995.2,869.1 996.2,870.1 C997.2,871.1 998.2,872.1 999.2,873.1 C1000.2,874.1 1001.2,875.1 1002.2,876.1 C1003.2,877.1 1004.2,878.0 1005.2,879.0 C1006.2,880.0 1007.2,880.9 1008.2,881.9 C1009.2,882.8 1010.2,883.8 1011.2,884.7 C1012.2,885.6 1013.2,886.6 1014.2,887.5 C1015.2,888.4 1016.2,889.3 1017.2,890.2 C1018.2,891.1 1019.2,892.0 1020.2,892.9 C1021.2,893.8 1022.2,894.7 1023.2,895.5 C1024.2,896.4 1025.2,897.3 1026.2,898.1 C1027.2,899.0 1028.2,899.8 1029.2,900.6 C1030.2,901.4 1031.2,902.3 1032.2,903.1 C1033.2,903.9 1034.2,904.7 1035.2,905.5 C1036.2,906.2 1037.2,907.0 1038.2,907.8 C1039.2,908.5 1040.2,909.3 1041.2,910.0 C1042.2,910.8 1043.2,911.5 1044.2,912.2 C1045.2,912.9 1046.2,913.6 1047.2,914.3 C1048.2,915.0 1049.2,915.7 1050.2,916.4 C1051.2,917.1 1052.2,917.7 1053.2,918.4 C1054.2,919.0 1055.2,919.6 1056.2,920.3 C1057.2,920.9 1058.2,921.5 1059.2,922.1 C1060.2,922.7 1061.2,923.2 1062.2,923.8 C1063.2,924.4 1064.2,924.9 1065.2,925.5 C1066.2,926.0 1067.2,926.6 1068.2,927.1 C1069.2,927.6 1070.2,928.1 1071.2,928.6 C1072.2,929.2 1073.2,929.6 1074.2,930.1 C1075.2,930.6 1076.2,931.1 1077.2,931.6 C1078.2,932.0 1079.2,932.5 1080.2,932.9 C1081.2,933.4 1082.2,933.8 1083.2,934.3 C1084.2,934.7 1085.2,935.1 1086.2,935.5 C1087.2,935.9 1088.2,936.3 1089.2,936.7 C1090.2,937.2 1091.2,937.5 1092.2,937.9 C1093.2,938.3 1094.2,938.7 1095.2,939.1 C1096.2,939.5 1097.2,939.8 1098.2,940.2 C1099.2,940.5 1100.2,940.9 1101.2,941.3 C1102.2,941.6 1103.2,941.9 1104.2,942.3 C1105.2,942.6 1106.2,942.9 1107.2,943.3 C1108.2,943.6 1109.2,943.9 1110.2,944.2 C1111.2,944.5 1112.2,944.8 1113.2,945.1 C1114.2,945.4 1115.2,945.7 1116.2,946.0 C1117.2,946.2 1118.2,946.5 1119.2,946.8 C1120.2,947.0 1121.2,947.3 1122.2,947.5 C1123.2,947.7 1124.2,948.0 1125.2,948.2 C1126.2,948.4 1127.2,948.6 1128.2,948.8 C1129.2,949.0 1130.2,949.2 1131.2,949.4 C1132.2,949.6 1133.2,949.8 1134.2,949.9 C1135.2,950.1 1136.2,950.2 1137.2,950.4 C1138.2,950.5 1139.2,950.7 1140.2,950.8 C1141.2,950.9 1142.2,951.0 1143.2,951.2 C1144.2,951.3 1145.2,951.4 1146.2,951.5 C1147.2,951.6 1148.2,951.7 1149.2,951.8 C1150.2,951.8 1151.2,951.9 1152.2,952.0 C1153.2,952.1 1154.2,952.2 1155.2,952.2 C1156.2,952.3 1157.2,952.4 1158.2,952.4 C1159.2,952.5 1160.2,952.6 1161.2,952.6 C1162.2,952.7 1163.2,952.7 1164.2,952.8 C1165.2,952.9 1166.2,952.9 1167.2,953.0 C1168.2,953.0 1169.2,953.1 1170.2,953.1 C1171.2,953.2 1172.2,953.3 1173.2,953.3 C1174.2,953.4 1175.2,953.4 1176.2,953.5 C1177.2,953.5 1178.2,953.6 1179.2,953.7 C1180.2,953.7 1181.2,953.8 1182.2,953.8 C1183.2,953.9 1184.2,953.9 1185.2,954.0 C1186.2,954.0 1187.2,954.1 1188.2,954.1 C1189.2,954.2 1190.2,954.2 1191.2,954.3 C1192.2,954.3 1193.2,954.4 1194.2,954.4 C1195.2,954.5 1196.2,954.5 1197.2,954.6 C1198.2,954.6 1199.2,954.7 1200.2,954.7 C1201.2,954.8 1202.2,954.8 1203.2,954.9 C1204.2,954.9 1205.2,955.0 1206.2,955.0 C1207.2,955.1 1208.2,955.1 1209.2,955.2 C1210.2,955.2 1211.2,955.3 1212.2,955.3 C1213.2,955.4 1214.2,955.4 1215.2,955.5 C1216.2,955.5 1217.2,955.5 1218.2,955.6 C1219.2,955.6 1220.2,955.7 1221.2,955.7 C1222.2,955.8 1223.2,955.8 1224.2,955.8 C1225.2,955.9 1226.2,955.9 1227.2,956.0 C1228.2,956.0 1229.2,956.1 1230.2,956.1 C1231.2,956.1 1232.2,956.2 1233.2,956.2 C1234.2,956.3 1235.2,956.3 1236.2,956.4 C1237.2,956.4 1238.2,956.4 1239.2,956.5 C1240.2,956.5 1241.2,956.6 1242.2,956.6 C1243.2,956.6 1244.2,956.7 1245.2,956.7 C1246.2,956.7 1247.2,956.8 1248.2,956.8 C1249.2,956.9 1250.2,956.9 1251.2,956.9 C1252.2,957.0 1253.2,957.0 1254.2,957.0 C1255.2,957.1 1256.2,957.1 1257.2,957.2 C1258.2,957.2 1259.2,957.2 1260.2,957.3 C1261.2,957.3 1262.2,957.3 1263.2,957.4 C1264.2,957.4 1265.2,957.4 1266.2,957.5 C1267.2,957.5 1268.2,957.5 1269.2,957.6 C1270.2,957.6 1271.2,957.6 1272.2,957.7 C1273.2,957.7 1274.2,957.7 1275.2,957.8 C1276.2,957.8 1277.2,957.8 1278.2,957.9 C1279.2,957.9 1280.2,957.9 1281.2,958.0 C1282.2,958.0 1283.2,958.0 1284.2,958.1 C1285.2,958.1 1286.2,958.1 1287.2,958.2 C1288.2,958.2 1289.2,958.2 1290.2,958.2 C1291.2,958.3 1292.2,958.3 1293.2,958.3 C1294.2,958.4 1295.2,958.4 1296.2,958.4 C1297.2,958.5 1298.2,958.5 1299.2,958.5 C1300.2,958.5 1301.2,958.6 1302.2,958.6 C1303.2,958.6 1304.2,958.7 1305.2,958.7 C1306.2,958.7 1307.2,958.7 1308.2,958.8 C1309.2,958.8 1310.2,958.8 1311.2,958.8 C1312.2,958.9 1313.2,958.9 1314.2,958.9 C1315.2,958.9 1316.2,959.0 1317.2,959.0 C1318.2,959.0 1319.2,959.1 1320.2,959.1 C1321.2,959.1 1322.2,959.1 1323.2,959.2 C1324.2,959.2 1325.2,959.2 1326.2,959.2 C1327.2,959.3 1328.2,959.3 1329.2,959.3 C1330.2,959.3 1331.2,959.3 1332.2,959.4 C1333.2,959.4 1334.2,959.4 1335.2,959.4 C1336.2,959.5 1337.2,959.5 1338.2,959.5 C1339.2,959.5 1340.2,959.6 1341.2,959.6 C1342.2,959.6 1343.2,959.6 1344.2,959.6 C1345.2,959.7 1346.2,959.7 1347.2,959.7 C1348.2,959.7 1349.2,959.8 1350.2,959.8 C1351.2,959.8 1352.2,959.8 1353.2,959.8 C1354.2,959.9 1355.2,959.9 1356.2,959.9 C1357.2,959.9 1358.2,959.9 1359.2,960.0 C1360.2,960.0 1361.2,960.0 1362.2,960.0 C1363.2,960.1 1364.2,960.1 1365.2,960.1 C1366.2,960.1 1367.2,960.1 1368.2,960.2 C1369.2,960.2 1370.2,960.2 1371.2,960.2 C1372.2,960.2 1373.2,960.2 1374.2,960.3 C1375.2,960.3 1376.2,960.3 1377.2,960.3 C1378.2,960.3 1379.2,960.4 1380.2,960.4 C1381.2,960.4 1382.2,960.4 1383.2,960.4 C1384.2,960.5 1385.2,960.5 1386.2,960.5 C1387.2,960.5 1388.2,960.5 1389.2,960.5 C1390.2,960.6 1391.2,960.6 1392.2,960.6 C1393.2,960.6 1394.2,960.6 1395.2,960.7 C1396.2,960.7 1397.2,960.7 1398.2,960.7 C1399.2,960.7 1400.2,960.7 1401.2,960.8 C1402.2,960.8 1403.2,960.8 1404.2,960.8 C1405.2,960.8 1406.2,960.8 1407.2,960.9 C1408.2,960.9 1409.2,960.9 1410.2,960.9 C1411.2,960.9 1412.2,960.9 1413.2,961.0 C1414.2,961.0 1415.2,961.0 1416.2,961.0 C1417.2,961.0 1418.2,961.0 1419.2,961.1 C1420.2,961.1 1421.2,961.1 1422.2,961.1 C1423.2,961.1 1424.2,961.1 1425.2,961.1 C1426.2,961.2 1427.2,961.2 1428.2,961.2 C1429.2,961.2 1430.2,961.2 1431.2,961.2 C1432.2,961.3 1433.2,961.3 1434.2,961.3 C1435.2,961.3 1436.6,961.3 1437.2,961.3 C1437.8,961.3 1437.8,961.3 1437.9,961.3" fill="none" stroke="#f00" stroke-width="3.4" stroke-linejoin="round"/>
<path d="M270.2,151.4 C270.7,151.4 272.2,151.4 273.2,151.4 C274.2,151.4 275.2,151.4 276.2,151.4 C277.2,151.4 278.2,151.4 279.2,151.4 C280.2,151.4 281.2,151.4 282.2,151.4 C283.2,151.4 284.2,151.4 285.2,151.4 C286.2,151.5 287.2,151.5 288.2,151.7 C289.2,151.8 290.2,152.0 291.2,152.3 C292.2,152.5 293.2,152.7 294.2,153.0 C295.2,153.2 296.2,153.5 297.2,153.8 C298.2,154.0 299.2,154.3 300.2,154.7 C301.2,155.0 302.2,155.3 303.2,155.6 C304.2,156.0 305.2,156.3 306.2,156.7 C307.2,157.0 308.2,157.4 309.2,157.8 C310.2,158.2 311.2,158.5 312.2,158.9 C313.2,159.3 314.2,159.7 315.2,160.1 C316.2,160.5 317.2,160.9 318.2,161.3 C319.2,161.7 320.2,162.1 321.2,162.5 C322.2,162.9 323.2,163.3 324.2,163.6 C325.2,164.0 326.2,164.4 327.2,164.8 C328.2,165.2 329.2,165.6 330.2,165.9 C331.2,166.3 332.2,166.6 333.2,167.0 C334.2,167.3 335.2,167.7 336.2,168.0 C337.2,168.3 338.2,168.7 339.2,169.0 C340.2,169.3 341.2,169.6 342.2,169.9 C343.2,170.3 344.2,170.6 345.2,170.9 C346.2,171.2 347.2,171.5 348.2,171.9 C349.2,172.2 350.2,172.5 351.2,172.9 C352.2,173.2 353.2,173.5 354.2,173.9 C355.2,174.3 356.2,174.6 357.2,175.0 C358.2,175.4 359.2,175.8 360.2,176.2 C361.2,176.6 362.2,177.0 363.2,177.5 C364.2,177.9 365.2,178.4 366.2,178.9 C367.2,179.3 368.2,179.9 369.2,180.4 C370.2,180.9 371.2,181.5 372.2,182.1 C373.2,182.7 374.2,183.3 375.2,183.9 C376.2,184.6 377.2,185.2 378.2,185.9 C379.2,186.6 380.2,187.4 381.2,188.2 C382.2,188.9 383.2,189.8 384.2,190.6 C385.2,191.5 386.2,192.3 387.2,193.3 C388.2,194.2 389.2,195.2 390.2,196.2 C391.2,197.1 392.2,198.2 393.2,199.2 C394.2,200.3 395.2,201.4 396.2,202.5 C397.2,203.6 398.2,204.8 399.2,205.9 C400.2,207.1 401.2,208.3 402.2,209.5 C403.2,210.7 404.2,212.0 405.2,213.2 C406.2,214.5 407.2,215.8 408.2,217.1 C409.2,218.4 410.2,219.7 411.2,221.0 C412.2,222.3 413.2,223.7 414.2,225.0 C415.2,226.4 416.2,227.8 417.2,229.2 C418.2,230.5 419.2,231.9 420.2,233.3 C421.2,234.7 422.2,236.1 423.2,237.5 C424.2,238.9 425.2,240.4 426.2,241.8 C427.2,243.2 428.2,244.6 429.2,246.0 C430.2,247.5 431.2,248.9 432.2,250.3 C433.2,251.7 434.2,253.1 435.2,254.5 C436.2,255.9 437.2,257.3 438.2,258.7 C439.2,260.1 440.2,261.5 441.2,262.9 C442.2,264.3 443.2,265.6 444.2,267.0 C445.2,268.3 446.2,269.7 447.2,271.0 C448.2,272.3 449.2,273.6 450.2,274.9 C451.2,276.2 452.2,277.5 453.2,278.8 C454.2,280.0 455.2,281.3 456.2,282.5 C457.2,283.7 458.2,284.9 459.2,286.1 C460.2,287.3 461.2,288.4 462.2,289.6 C463.2,290.7 464.2,291.9 465.2,293.0 C466.2,294.1 467.2,295.2 468.2,296.3 C469.2,297.3 470.2,298.4 471.2,299.4 C472.2,300.5 473.2,301.5 474.2,302.5 C475.2,303.4 476.2,304.4 477.2,305.4 C478.2,306.3 479.2,307.2 480.2,308.1 C481.2,309.0 482.2,309.9 483.2,310.8 C484.2,311.7 485.2,312.5 486.2,313.3 C487.2,314.1 488.2,314.9 489.2,315.7 C490.2,316.5 491.2,317.3 492.2,318.1 C493.2,318.8 494.2,319.6 495.2,320.3 C496.2,321.0 497.2,321.7 498.2,322.5 C499.2,323.2 500.2,323.9 501.2,324.5 C502.2,325.2 503.2,325.9 504.2,326.6 C505.2,327.2 506.2,327.9 507.2,328.6 C508.2,329.2 509.2,329.9 510.2,330.5 C511.2,331.1 512.2,331.8 513.2,332.4 C514.2,333.0 515.2,333.7 516.2,334.3 C517.2,334.9 518.2,335.6 519.2,336.2 C520.2,336.8 521.2,337.4 522.2,338.0 C523.2,338.7 524.2,339.3 525.2,339.9 C526.2,340.5 527.2,341.1 528.2,341.8 C529.2,342.4 530.2,343.0 531.2,343.6 C532.2,344.2 533.2,344.8 534.2,345.4 C535.2,346.1 536.2,346.7 537.2,347.3 C538.2,347.9 539.2,348.5 540.2,349.2 C541.2,349.8 542.2,350.4 543.2,351.1 C544.2,351.7 545.2,352.3 546.2,353.0 C547.2,353.6 548.2,354.2 549.2,354.9 C550.2,355.5 551.2,356.2 552.2,356.8 C553.2,357.5 554.2,358.1 555.2,358.8 C556.2,359.5 557.2,360.2 558.2,360.8 C559.2,361.5 560.2,362.2 561.2,362.9 C562.2,363.6 563.2,364.3 564.2,365.0 C565.2,365.7 566.2,366.4 567.2,367.1 C568.2,367.9 569.2,368.6 570.2,369.3 C571.2,370.1 572.2,370.8 573.2,371.6 C574.2,372.3 575.2,373.1 576.2,373.9 C577.2,374.7 578.2,375.5 579.2,376.3 C580.2,377.1 581.2,377.9 582.2,378.7 C583.2,379.5 584.2,380.4 585.2,381.2 C586.2,382.1 587.2,382.9 588.2,383.8 C589.2,384.7 590.2,385.6 591.2,386.5 C592.2,387.4 593.2,388.3 594.2,389.2 C595.2,390.2 596.2,391.1 597.2,392.1 C598.2,393.0 599.2,394.0 600.2,395.0 C601.2,395.9 602.2,396.9 603.2,397.9 C604.2,398.9 605.2,399.9 606.2,401.0 C607.2,402.0 608.2,403.0 609.2,404.0 C610.2,405.1 611.2,406.1 612.2,407.2 C613.2,408.2 614.2,409.3 615.2,410.3 C616.2,411.4 617.2,412.5 618.2,413.5 C619.2,414.6 620.2,415.7 621.2,416.8 C622.2,417.9 623.2,419.0 624.2,420.1 C625.2,421.1 626.2,422.2 627.2,423.3 C628.2,424.4 629.2,425.6 630.2,426.7 C631.2,427.8 632.2,428.9 633.2,430.0 C634.2,431.1 635.2,432.2 636.2,433.3 C637.2,434.4 638.2,435.5 639.2,436.6 C640.2,437.7 641.2,438.9 642.2,440.0 C643.2,441.1 644.2,442.2 645.2,443.3 C646.2,444.4 647.2,445.5 648.2,446.6 C649.2,447.7 650.2,448.8 651.2,449.9 C652.2,450.9 653.2,452.0 654.2,453.1 C655.2,454.2 656.2,455.3 657.2,456.3 C658.2,457.4 659.2,458.5 660.2,459.5 C661.2,460.6 662.2,461.7 663.2,462.7 C664.2,463.8 665.2,464.9 666.2,465.9 C667.2,467.0 668.2,468.0 669.2,469.1 C670.2,470.1 671.2,471.2 672.2,472.3 C673.2,473.3 674.2,474.4 675.2,475.4 C676.2,476.5 677.2,477.6 678.2,478.6 C679.2,479.7 680.2,480.8 681.2,481.9 C682.2,482.9 683.2,484.0 684.2,485.1 C685.2,486.2 686.2,487.3 687.2,488.4 C688.2,489.4 689.2,490.5 690.2,491.6 C691.2,492.8 692.2,493.9 693.2,495.0 C694.2,496.1 695.2,497.2 696.2,498.4 C697.2,499.5 698.2,500.7 699.2,501.8 C700.2,503.0 701.2,504.1 702.2,505.3 C703.2,506.5 704.2,507.7 705.2,508.9 C706.2,510.1 707.2,511.3 708.2,512.5 C709.2,513.7 710.2,514.9 711.2,516.2 C712.2,517.4 713.2,518.7 714.2,520.0 C715.2,521.2 716.2,522.5 717.2,523.8 C718.2,525.1 719.2,526.4 720.2,527.8 C721.2,529.1 722.2,530.4 723.2,531.8 C724.2,533.1 725.2,534.5 726.2,535.8 C727.2,537.2 728.2,538.6 729.2,540.0 C730.2,541.4 731.2,542.8 732.2,544.2 C733.2,545.7 734.2,547.1 735.2,548.5 C736.2,550.0 737.2,551.4 738.2,552.9 C739.2,554.4 740.2,555.8 741.2,557.3 C742.2,558.8 743.2,560.3 744.2,561.8 C745.2,563.3 746.2,564.9 747.2,566.4 C748.2,567.9 749.2,569.5 750.2,571.0 C751.2,572.6 752.2,574.1 753.2,575.7 C754.2,577.3 755.2,578.9 756.2,580.4 C757.2,582.0 758.2,583.6 759.2,585.3 C760.2,586.9 761.2,588.5 762.2,590.1 C763.2,591.7 764.2,593.4 765.2,595.0 C766.2,596.7 767.2,598.3 768.2,600.0 C769.2,601.6 770.2,603.3 771.2,605.0 C772.2,606.7 773.2,608.4 774.2,610.1 C775.2,611.8 776.2,613.5 777.2,615.2 C778.2,616.9 779.2,618.6 780.2,620.3 C781.2,622.0 782.2,623.8 783.2,625.5 C784.2,627.2 785.2,628.9 786.2,630.7 C787.2,632.4 788.2,634.1 789.2,635.9 C790.2,637.6 791.2,639.3 792.2,641.0 C793.2,642.8 794.2,644.5 795.2,646.2 C796.2,647.9 797.2,649.6 798.2,651.3 C799.2,653.1 800.2,654.8 801.2,656.5 C802.2,658.1 803.2,659.8 804.2,661.5 C805.2,663.2 806.2,664.9 807.2,666.5 C808.2,668.2 809.2,669.8 810.2,671.5 C811.2,673.1 812.2,674.7 813.2,676.3 C814.2,677.9 815.2,679.5 816.2,681.1 C817.2,682.7 818.2,684.2 819.2,685.8 C820.2,687.3 821.2,688.8 822.2,690.4 C823.2,691.9 824.2,693.3 825.2,694.8 C826.2,696.3 827.2,697.7 828.2,699.1 C829.2,700.6 830.2,702.0 831.2,703.3 C832.2,704.7 833.2,706.1 834.2,707.4 C835.2,708.7 836.2,710.0 837.2,711.3 C838.2,712.6 839.2,713.8 840.2,715.0 C841.2,716.3 842.2,717.5 843.2,718.6 C844.2,719.8 845.2,721.0 846.2,722.1 C847.2,723.2 848.2,724.3 849.2,725.4 C850.2,726.5 851.2,727.6 852.2,728.6 C853.2,729.7 854.2,730.7 855.2,731.7 C856.2,732.7 857.2,733.7 858.2,734.6 C859.2,735.6 860.2,736.5 861.2,737.4 C862.2,738.3 863.2,739.2 864.2,740.1 C865.2,741.0 866.2,741.9 867.2,742.7 C868.2,743.5 869.2,744.4 870.2,745.2 C871.2,746.0 872.2,746.7 873.2,747.5 C874.2,748.3 875.2,749.0 876.2,749.8 C877.2,750.5 878.2,751.2 879.2,751.9 C880.2,752.6 881.2,753.3 882.2,754.0 C883.2,754.6 884.2,755.3 885.2,755.9 C886.2,756.6 887.2,757.2 888.2,757.8 C889.2,758.4 890.2,759.1 891.2,759.7 C892.2,760.3 893.2,760.8 894.2,761.4 C895.2,762.0 896.2,762.6 897.2,763.1 C898.2,763.7 899.2,764.3 900.2,764.8 C901.2,765.4 902.2,765.9 903.2,766.4 C904.2,767.0 905.2,767.5 906.2,768.0 C907.2,768.6 908.2,769.1 909.2,769.6 C910.2,770.1 911.2,770.7 912.2,771.2 C913.2,771.7 914.2,772.2 915.2,772.7 C916.2,773.2 917.2,773.8 918.2,774.3 C919.2,774.8 920.2,775.3 921.2,775.8 C922.2,776.3 923.2,776.9 924.2,777.4 C925.2,777.9 926.2,778.5 927.2,779.0 C928.2,779.5 929.2,780.1 930.2,780.6 C931.2,781.2 932.2,781.7 933.2,782.3 C934.2,782.8 935.2,783.4 936.2,784.0 C937.2,784.6 938.2,785.1 939.2,785.7 C940.2,786.3 941.2,786.9 942.2,787.5 C943.2,788.2 944.2,788.8 945.2,789.4 C946.2,790.0 947.2,790.7 948.2,791.3 C949.2,792.0 950.2,792.6 951.2,793.3 C952.2,793.9 953.2,794.6 954.2,795.3 C955.2,796.0 956.2,796.6 957.2,797.3 C958.2,798.0 959.2,798.7 960.2,799.4 C961.2,800.1 962.2,800.9 963.2,801.6 C964.2,802.3 965.2,803.0 966.2,803.8 C967.2,804.5 968.2,805.3 969.2,806.0 C970.2,806.8 971.2,807.5 972.2,808.3 C973.2,809.0 974.2,809.8 975.2,810.6 C976.2,811.4 977.2,812.2 978.2,812.9 C979.2,813.7 980.2,814.5 981.2,815.3 C982.2,816.1 983.2,817.0 984.2,817.8 C985.2,818.6 986.2,819.4 987.2,820.2 C988.2,821.1 989.2,821.9 990.2,822.7 C991.2,823.6 992.2,824.4 993.2,825.3 C994.2,826.1 995.2,827.0 996.2,827.8 C997.2,828.7 998.2,829.6 999.2,830.4 C1000.2,831.3 1001.2,832.2 1002.2,833.0 C1003.2,833.9 1004.2,834.8 1005.2,835.7 C1006.2,836.6 1007.2,837.5 1008.2,838.4 C1009.2,839.3 1010.2,840.2 1011.2,841.1 C1012.2,842.0 1013.2,842.9 1014.2,843.8 C1015.2,844.7 1016.2,845.6 1017.2,846.5 C1018.2,847.4 1019.2,848.3 1020.2,849.2 C1021.2,850.1 1022.2,851.0 1023.2,852.0 C1024.2,852.9 1025.2,853.8 1026.2,854.7 C1027.2,855.6 1028.2,856.5 1029.2,857.4 C1030.2,858.3 1031.2,859.2 1032.2,860.1 C1033.2,861.0 1034.2,861.9 1035.2,862.8 C1036.2,863.7 1037.2,864.6 1038.2,865.5 C1039.2,866.4 1040.2,867.2 1041.2,868.1 C1042.2,869.0 1043.2,869.9 1044.2,870.7 C1045.2,871.6 1046.2,872.5 1047.2,873.3 C1048.2,874.2 1049.2,875.0 1050.2,875.9 C1051.2,876.7 1052.2,877.6 1053.2,878.4 C1054.2,879.2 1055.2,880.1 1056.2,880.9 C1057.2,881.7 1058.2,882.5 1059.2,883.3 C1060.2,884.1 1061.2,884.9 1062.2,885.7 C1063.2,886.4 1064.2,887.2 1065.2,888.0 C1066.2,888.7 1067.2,889.5 1068.2,890.2 C1069.2,891.0 1070.2,891.7 1071.2,892.4 C1072.2,893.2 1073.2,893.9 1074.2,894.6 C1075.2,895.3 1076.2,896.0 1077.2,896.8 C1078.2,897.5 1079.2,898.2 1080.2,898.9 C1081.2,899.6 1082.2,900.3 1083.2,901.0 C1084.2,901.8 1085.2,902.5 1086.2,903.2 C1087.2,903.9 1088.2,904.6 1089.2,905.4 C1090.2,906.1 1091.2,906.8 1092.2,907.6 C1093.2,908.3 1094.2,909.1 1095.2,909.8 C1096.2,910.6 1097.2,911.3 1098.2,912.1 C1099.2,912.9 1100.2,913.7 1101.2,914.4 C1102.2,915.2 1103.2,916.0 1104.2,916.8 C1105.2,917.5 1106.2,918.3 1107.2,919.1 C1108.2,919.9 1109.2,920.6 1110.2,921.4 C1111.2,922.2 1112.2,922.9 1113.2,923.7 C1114.2,924.5 1115.2,925.2 1116.2,925.9 C1117.2,926.7 1118.2,927.4 1119.2,928.1 C1120.2,928.8 1121.2,929.5 1122.2,930.2 C1123.2,930.9 1124.2,931.6 1125.2,932.2 C1126.2,932.9 1127.2,933.5 1128.2,934.1 C1129.2,934.7 1130.2,935.3 1131.2,935.9 C1132.2,936.5 1133.2,937.0 1134.2,937.6 C1135.2,938.1 1136.2,938.6 1137.2,939.1 C1138.2,939.6 1139.2,940.1 1140.2,940.6 C1141.2,941.1 1142.2,941.6 1143.2,942.0 C1144.2,942.5 1145.2,942.9 1146.2,943.3 C1147.2,943.7 1148.2,944.2 1149.2,944.5 C1150.2,944.9 1151.2,945.3 1152.2,945.7 C1153.2,946.1 1154.2,946.4 1155.2,946.8 C1156.2,947.1 1157.2,947.4 1158.2,947.8 C1159.2,948.1 1160.2,948.4 1161.2,948.7 C1162.2,949.0 1163.2,949.3 1164.2,949.6 C1165.2,949.9 1166.2,950.1 1167.2,950.4 C1168.2,950.7 1169.2,950.9 1170.2,951.2 C1171.2,951.4 1172.2,951.7 1173.2,951.9 C1174.2,952.1 1175.2,952.3 1176.2,952.6 C1177.2,952.8 1178.2,953.0 1179.2,953.2 C1180.2,953.4 1181.2,953.6 1182.2,953.8 C1183.2,954.0 1184.2,954.2 1185.2,954.4 C1186.2,954.5 1187.2,954.7 1188.2,954.9 C1189.2,955.1 1190.2,955.2 1191.2,955.4 C1192.2,955.6 1193.2,955.7 1194.2,955.9 C1195.2,956.1 1196.2,956.2 1197.2,956.4 C1198.2,956.5 1199.2,956.7 1200.2,956.8 C1201.2,957.0 1202.2,957.1 1203.2,957.3 C1204.2,957.4 1205.2,957.5 1206.2,957.7 C1207.2,957.8 1208.2,957.9 1209.2,958.1 C1210.2,958.2 1211.2,958.3 1212.2,958.4 C1213.2,958.6 1214.2,958.7 1215.2,958.8 C1216.2,958.9 1217.2,959.0 1218.2,959.2 C1219.2,959.3 1220.2,959.4 1221.2,959.5 C1222.2,959.6 1223.2,959.7 1224.2,959.8 C1225.2,959.9 1226.2,960.0 1227.2,960.1 C1228.2,960.2 1229.2,960.3 1230.2,960.4 C1231.2,960.4 1232.2,960.5 1233.2,960.6 C1234.2,960.7 1235.2,960.8 1236.2,960.9 C1237.2,961.0 1238.2,961.0 1239.2,961.1 C1240.2,961.2 1241.2,961.3 1242.2,961.3 C1243.2,961.4 1244.2,961.5 1245.2,961.5 C1246.2,961.6 1247.2,961.7 1248.2,961.7 C1249.2,961.8 1250.2,961.9 1251.2,961.9 C1252.2,962.0 1253.2,962.0 1254.2,962.1 C1255.2,962.1 1256.2,962.2 1257.2,962.2 C1258.2,962.3 1259.2,962.3 1260.2,962.4 C1261.2,962.4 1262.2,962.5 1263.2,962.5 C1264.2,962.6 1265.2,962.6 1266.2,962.6 C1267.2,962.7 1268.2,962.7 1269.2,962.8 C1270.2,962.8 1271.2,962.8 1272.2,962.9 C1273.2,962.9 1274.2,962.9 1275.2,963.0 C1276.2,963.0 1277.2,963.0 1278.2,963.1 C1279.2,963.1 1280.2,963.1 1281.2,963.1 C1282.2,963.2 1283.2,963.2 1284.2,963.2 C1285.2,963.2 1286.2,963.3 1287.2,963.3 C1288.2,963.3 1289.2,963.3 1290.2,963.3 C1291.2,963.4 1292.2,963.4 1293.2,963.4 C1294.2,963.4 1295.2,963.4 1296.2,963.4 C1297.2,963.4 1298.2,963.5 1299.2,963.5 C1300.2,963.5 1301.2,963.5 1302.2,963.5 C1303.2,963.5 1304.2,963.5 1305.2,963.5 C1306.2,963.6 1307.2,963.6 1308.2,963.6 C1309.2,963.6 1310.2,963.6 1311.2,963.6 C1312.2,963.6 1313.2,963.6 1314.2,963.6 C1315.2,963.6 1316.2,963.6 1317.2,963.6 C1318.2,963.6 1319.2,963.6 1320.2,963.6 C1321.2,963.6 1322.2,963.7 1323.2,963.7 C1324.2,963.7 1325.2,963.7 1326.2,963.7 C1327.2,963.7 1328.2,963.7 1329.2,963.7 C1330.2,963.7 1331.2,963.7 1332.2,963.7 C1333.2,963.7 1334.2,963.7 1335.2,963.7 C1336.2,963.7 1337.2,963.7 1338.2,963.7 C1339.2,963.7 1340.2,963.7 1341.2,963.7 C1342.2,963.7 1343.2,963.7 1344.2,963.7 C1345.2,963.7 1346.2,963.7 1347.2,963.7 C1348.2,963.7 1349.2,963.7 1350.2,963.7 C1351.2,963.7 1352.2,963.8 1353.2,963.8 C1354.2,963.8 1355.2,963.8 1356.2,963.8 C1357.2,963.8 1358.2,963.8 1359.2,963.8 C1360.2,963.8 1361.2,963.8 1362.2,963.8 C1363.2,963.8 1364.2,963.8 1365.2,963.9 C1366.2,963.9 1367.2,963.9 1368.2,963.9 C1369.2,963.9 1370.2,963.9 1371.2,963.9 C1372.2,963.9 1373.2,963.9 1374.2,964.0 C1375.2,964.0 1376.2,964.0 1377.2,964.0 C1378.2,964.0 1379.2,964.0 1380.2,964.1 C1381.2,964.1 1382.2,964.1 1383.2,964.1 C1384.2,964.2 1385.2,964.2 1386.2,964.2 C1387.2,964.2 1388.2,964.2 1389.2,964.3 C1390.2,964.3 1391.2,964.3 1392.2,964.4 C1393.2,964.4 1394.2,964.4 1395.2,964.4 C1396.2,964.5 1397.2,964.5 1398.2,964.6 C1399.2,964.6 1400.2,964.6 1401.2,964.7 C1402.2,964.7 1403.2,964.7 1404.2,964.8 C1405.2,964.8 1406.2,964.9 1407.2,964.9 C1408.2,965.0 1409.2,965.0 1410.2,965.0 C1411.2,965.1 1412.2,965.1 1413.2,965.2 C1414.2,965.3 1415.2,965.3 1416.2,965.4 C1417.2,965.4 1418.2,965.5 1419.2,965.5 C1420.2,965.6 1421.2,965.7 1422.2,965.7 C1423.2,965.8 1424.4,965.9 1425.2,965.9 C1426.0,966.0 1426.7,966.0 1427.0,966.0" fill="none" stroke="#00f" stroke-width="3.4" stroke-linejoin="round"/>
</svg>
</body></html>
